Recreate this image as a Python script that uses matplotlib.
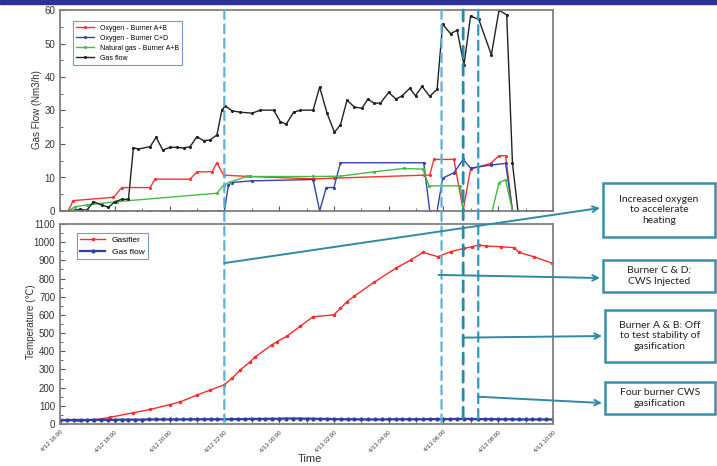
import matplotlib.pyplot as plt
import numpy as np
from matplotlib.patches import ConnectionPatch, Rectangle

plt.rcParams['font.family'] = ['Liberation Sans', 'DejaVu Sans']

# time axis: hours after 4/12 16:00
tick_hours = [0, 2, 4, 6, 8, 10, 12, 14, 16, 18]
tick_labels = ["4/12 16:00", "4/12 18:00", "4/12 20:00", "4/12 22:00", "4/13 00:00",
               "4/13 02:00", "4/13 04:00", "4/13 06:00", "4/13 08:00", "4/13 10:00"]

# --- top panel: flows (Nm3/h)
gas_t = [0.07, 0.30, 0.73, 0.98, 1.22, 1.52, 1.77, 2.01, 2.26, 2.50, 2.68, 2.86, 3.29, 3.51,
         3.75, 4.02, 4.27, 4.51, 4.75, 5.00, 5.24, 5.48, 5.73, 5.91, 6.03, 6.28, 6.58, 7.01,
         7.31, 7.80, 8.04, 8.26, 8.53, 8.78, 9.24, 9.48, 9.75, 10.02, 10.24, 10.48, 10.75,
         11.03, 11.24, 11.46, 11.70, 12.00, 12.27, 12.49, 12.77, 12.98, 13.22, 13.50, 13.77,
         13.97, 14.26, 14.50, 14.75, 14.99, 15.29, 15.75, 16.03, 16.31, 16.52, 16.72, 17.0,
         17.3, 17.6, 18.0]
gas_flow = [0, 0, 0.5, 0.2, 2.8, 1.8, 1.1, 2.8, 3.5, 3.5, 18.9, 18.5, 19.2, 22.0,
            18.2, 19.0, 19.0, 18.8, 19.2, 22.2, 21.0, 21.2, 22.7, 30.1, 31.4, 29.9, 29.5, 29.2,
            30.1, 30.1, 26.7, 25.9, 29.5, 30.1, 30.1, 37.0, 29.2, 23.5, 25.7, 33.1, 31.0,
            30.7, 33.4, 32.2, 32.2, 35.4, 33.4, 34.4, 36.6, 34.4, 37.2, 34.2, 36.4,
            55.8, 52.9, 54.0, 43.6, 58.2, 57.2, 46.6, 60.0, 58.5, 14.2, 0, 0,
            0, 0, 0]

oxy_ab_t = [0.30, 0.48, 1.95, 2.26, 3.29, 3.47, 4.75, 5.00, 5.55, 5.73, 5.97, 6.92, 9.26,
            10.0, 13.28, 13.50, 13.65, 14.38, 14.72, 14.99, 15.72, 16.03, 16.27, 16.52, 16.72]
oxy_ab = [0, 3.1, 4.1, 7.0, 7.0, 9.5, 9.5, 11.7, 11.7, 14.4, 10.7, 10.3, 9.6,
          9.8, 10.7, 10.7, 15.4, 15.4, 0.3, 12.5, 14.2, 16.5, 16.5, 0, 0]

oxy_cd_t = [0.30, 0.8, 1.3, 1.8, 2.3, 2.8, 3.3, 3.8, 4.3, 4.8, 5.3, 5.8, 6.0, 6.15, 6.28,
            7.0, 9.24, 9.48, 9.72, 10.0, 10.24, 13.28, 13.50, 13.77, 13.97, 14.38, 14.72,
            14.99, 15.72, 16.27, 16.52, 16.72]
oxy_cd = [0, 0, 0, 0, 0, 0, 0, 0, 0, 0, 0, 0, 0, 7.7, 8.5,
          9.0, 9.4, 0, 7.0, 7.0, 14.4, 14.4, 0, 0, 9.8, 11.4, 15.4,
          12.8, 13.7, 14.2, 0, 0]

ng_t = [0.30, 0.55, 0.98, 2.08, 5.73, 5.97, 6.20, 6.82, 9.24, 10.24, 11.46, 12.55, 13.25,
        13.47, 14.62, 14.72, 15.78, 16.03, 16.27, 16.52, 16.72]
ng = [0, 1.3, 1.8, 2.8, 5.3, 7.7, 8.6, 10.3, 10.3, 10.4, 11.7, 12.7, 12.5,
      7.5, 7.5, 0, 0, 8.5, 9.3, 0, 0]

# --- bottom panel: temperature
temp_t = [0.0, 0.67, 1.22, 1.83, 2.68, 3.29, 4.02, 4.39, 5.00, 5.48, 5.97, 6.28, 6.58, 6.95,
          7.13, 7.74, 7.92, 8.29, 8.78, 9.24, 9.99, 10.24, 10.48, 10.75, 11.46, 12.25, 12.80,
          13.26, 13.80, 14.26, 14.75, 15.05, 15.29, 15.54, 16.09, 16.58, 16.76, 17.30, 17.98]
gasifier = [18, 20, 22, 37, 62, 80, 107, 122, 159, 187, 214, 251, 297, 343,
            370, 435, 453, 484, 539, 590, 600, 636, 673, 704, 779, 856, 902,
            944, 920, 948, 966, 975, 985, 979, 975, 970, 944, 920, 884]

flow_t = np.linspace(0, 18, 73)
flow_temp = [22, 22, 22, 22, 22, 23, 23, 23, 23,
             24, 24, 24, 24, 25, 25, 25, 25, 25, 25, 26, 26, 26, 26, 26, 26,
             27, 27, 27, 28, 28, 28, 29, 29, 30, 30, 30, 29, 29, 28, 28, 27,
             26, 26, 26, 25, 25, 25, 25, 26, 26, 26, 26, 26, 26, 27, 27, 27,
             27, 28, 28, 28, 27, 27, 27, 26, 26, 26, 25, 25, 25, 25, 25, 25]

# event lines and annotations
event_t = [6.0, 13.93, 14.72, 15.27]
event_col = ['#5cb3d4', '#5cb3d4', '#2b87ab', '#3b9cc2']
event_lw = [1.6, 1.6, 2.0, 1.7]
notes = ["Increased oxygen\nto accelerate\nheating", "Burner C & D:\nCWS Injected",
         "Burner A & B: Off\nto test stability of\ngasification", "Four burner CWS\ngasification"]
note_start = [(6.0, 885), (13.82, 820), (14.72, 475), (15.27, 150)]

W, H = 717, 466
fig = plt.figure(figsize=(7.17, 4.66), dpi=100)
fig.add_artist(Rectangle((0, 1 - 4 / H), 1, 4 / H, transform=fig.transFigure,
                         color='#2e3192', zorder=5))

ax1 = fig.add_axes([60 / W, 1 - 211 / H, 493 / W, 201 / H])
ax2 = fig.add_axes([60 / W, 1 - 424 / H, 493 / W, 200 / H])

ax1.plot(oxy_ab_t, oxy_ab, color='#ff3030', lw=1, marker='.', ms=2.5, label='Oxygen - Burner A+B')
ax1.plot(oxy_cd_t, oxy_cd, color='#3344aa', lw=1, marker='.', ms=2.5, label='Oxygen - Burner C+D')
ax1.plot(ng_t, ng, color='#44bb44', lw=1, marker='.', ms=2.5, label='Natural gas - Burner A+B')
ax1.plot(gas_t, gas_flow, color='#222222', lw=1, marker='.', ms=2.5, label='Gas flow')
ax1.set_xlim(0, 18)
ax1.set_ylim(0, 60)
ax1.set_yticks(range(0, 61, 10))
ax1.set_yticks(range(0, 61, 5), minor=True)
ax1.set_xticks(tick_hours)
ax1.set_xticks(range(0, 19), minor=True)
ax1.tick_params(labelbottom=False)
leg1 = ax1.legend(loc='upper left', bbox_to_anchor=(0.026, 0.945), borderaxespad=0,
                  fontsize=5, frameon=True, fancybox=False, handlelength=2.6,
                  labelspacing=0.45, borderpad=0.5)
leg1.get_frame().set_edgecolor('#5a7fc0')
leg1.get_frame().set_linewidth(0.8)

ax2.plot(temp_t, gasifier, color='#ff2a2a', lw=1, marker='.', ms=3, label='Gasifier')
ax2.plot(flow_t, flow_temp, color='#2f3f9f', lw=1.6, marker='o', ms=2, label='Gas flow')
ax2.set_xlim(0, 18)
ax2.set_ylim(0, 1100)
ax2.set_yticks(range(0, 1101, 100))
ax2.set_yticks(range(0, 1101, 50), minor=True)
ax2.set_xticks(tick_hours)
ax2.set_xticks(range(0, 19), minor=True)
ax2.set_xticklabels(tick_labels, rotation=45, ha='right', va='top',
                    rotation_mode='anchor')
leg2 = ax2.legend(loc='upper left', bbox_to_anchor=(0.034, 0.955), borderaxespad=0,
                  fontsize=6, frameon=True, fancybox=False, handlelength=3,
                  labelspacing=0.5, borderpad=0.4)
leg2.get_frame().set_edgecolor('#5a7fc0')
leg2.get_frame().set_linewidth(0.8)

for ax in (ax1, ax2):
    for s in ax.spines.values():
        s.set_color('#808080')
        s.set_linewidth(1.3)
    ax.tick_params(which='both', direction='in', colors='#555555', labelcolor='#333333')
    ax.tick_params(which='major', length=3.5, width=0.8, labelsize=7)
    ax.tick_params(which='minor', length=2, width=0.6)
ax2.tick_params(axis='x', which='major', labelsize=4.3, pad=4)

fig.text(37 / W, 1 - 110 / H, 'Gas Flow (Nm3/h)', rotation=90, ha='center', va='center',
         fontsize=7, color='#333333')
fig.text(31 / W, 1 - 322 / H, 'Temperature (℃)', rotation=90, ha='center', va='center',
         fontsize=7, color='#333333')
fig.text(310 / W, 1 - 459 / H, 'Time', ha='center', va='center', fontsize=8, color='#333333')

# dashed event lines across both panels
for t, c, lw in zip(event_t, event_col, event_lw):
    fig.add_artist(ConnectionPatch(xyA=(t, 60), coordsA=ax1.transData, xyB=(t, 0),
                                   coordsB=ax2.transData, color=c, lw=lw,
                                   linestyle=(0, (4, 2.5)), zorder=6))

# annotation boxes
boxes = [(603, 183, 715, 237), (603, 260, 715, 292), (605, 310, 715, 362), (605, 382, 715, 414)]
arrow_y = [208, 278, 336, 403]
for (x0, y0, x1, y1), txt, st, ay in zip(boxes, notes, note_start, arrow_y):
    fig.add_artist(Rectangle((x0 / W, 1 - y1 / H), (x1 - x0) / W, (y1 - y0) / H,
                             transform=fig.transFigure, facecolor='white',
                             edgecolor='#3a8ea8', lw=1.8, zorder=7))
    fig.text((x0 + x1) / 2 / W, 1 - (y0 + y1) / 2 / H, txt, ha='center', va='center',
             fontsize=7.5, family=['Lato', 'DejaVu Sans'], color='#222222',
             linespacing=1.15, zorder=8)
    fig.add_artist(ConnectionPatch(xyA=st, coordsA=ax2.transData,
                                   xyB=((x0 - 3) / W, 1 - ay / H), coordsB=fig.transFigure,
                                   arrowstyle='->', color='#2e8aa5', lw=1.4,
                                   mutation_scale=10, zorder=7))

fig.savefig('out.png', dpi=100)
